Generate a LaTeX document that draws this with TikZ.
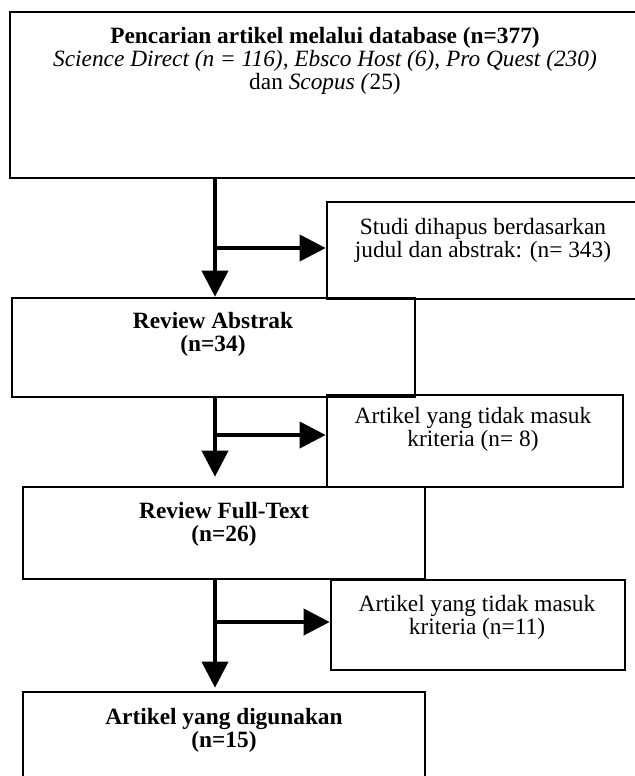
\documentclass[tikz,border=0pt]{standalone}
\usepackage{fontspec}
\setmainfont{Liberation Serif}
\usetikzlibrary{arrows.meta,fit}
\tikzset{
	box/.style={draw, line width=1.6pt, inner sep=0pt},
	flow/.style={line width=2.4pt, -{Triangle[length=15.6pt,width=15.6pt]}},
	boxtext/.style={anchor=north, align=center, inner sep=0pt, font=\fontsize{14}{13.8}\selectfont},
}
\begin{document}
\begin{tikzpicture}[x=0.6pt, y=-0.6pt]
	\useasboundingbox (0,0) rectangle (635,776);
	\clip (0,0) rectangle (635,776);
	
	% search
	\node[box, fit={(10,12) (640,178)}] (search) {};
	\node[boxtext] (searchtxt) at (325,27) {\textbf{Pencarian artikel melalui database (n=377)}\\
		\textit{Science Direct (n = 116), Ebsco Host (6), Pro Quest (230)}\\
		dan \textit{Scopus (}25)};
	
	% removed by title / abstract
	\node[box, fit={(327,202) (640,299)}] (screen) {};
	\node[boxtext] (screentxt) at (483,218) {Studi dihapus berdasarkan\\judul dan abstrak: (n= 343)};
	
	% review abstract
	\node[box, fit={(12,298) (415,397)}] (abstract) {};
	\node[boxtext] (abstracttxt) at (213,312) {\textbf{Review Abstrak}\\\textbf{(n=34)}};
	
	% excluded 1
	\node[box, fit={(327,395) (623,487)}] (exclA) {};
	\node[boxtext] (exclAtxt) at (473,407) {Artikel yang tidak masuk\\kriteria (n= 8)};
	
	% review full text
	\node[box, fit={(23,487) (425,579)}] (fulltext) {};
	\node[boxtext] (fulltexttxt) at (224,502) {\textbf{Review Full-Text}\\\textbf{(n=26)}};
	
	% excluded 2
	\node[box, fit={(331,580) (625,670)}] (exclB) {};
	\node[boxtext] (exclBtxt) at (477,595) {Artikel yang tidak masuk\\kriteria (n=11)};
	
	% included
	\node[box, fit={(23,692) (425,800)}] (used) {};
	\node[boxtext] (usedtxt) at (224,708) {\textbf{Artikel yang digunakan}\\\textbf{(n=15)}};
	
	% arrows
	\coordinate (splitA) at (215,248);
	\coordinate (splitB) at (215,435);
	\coordinate (splitC) at (215,622);
	
	\draw[flow] (splitA |- search.south) -- (splitA |- abstract.north);
	\draw[flow] (splitA) -- (splitA -| screen.west);
	
	\draw[flow, shorten >=5.4pt] (splitB |- abstract.south) -- (splitB |- fulltext.north);
	\draw[flow] (splitB) -- (splitB -| exclA.west);
	
	\draw[flow, shorten >=1.8pt] (splitC |- fulltext.south) -- (splitC |- used.north);
	\draw[flow] (splitC) -- (splitC -| exclB.west);
\end{tikzpicture}
\end{document}
